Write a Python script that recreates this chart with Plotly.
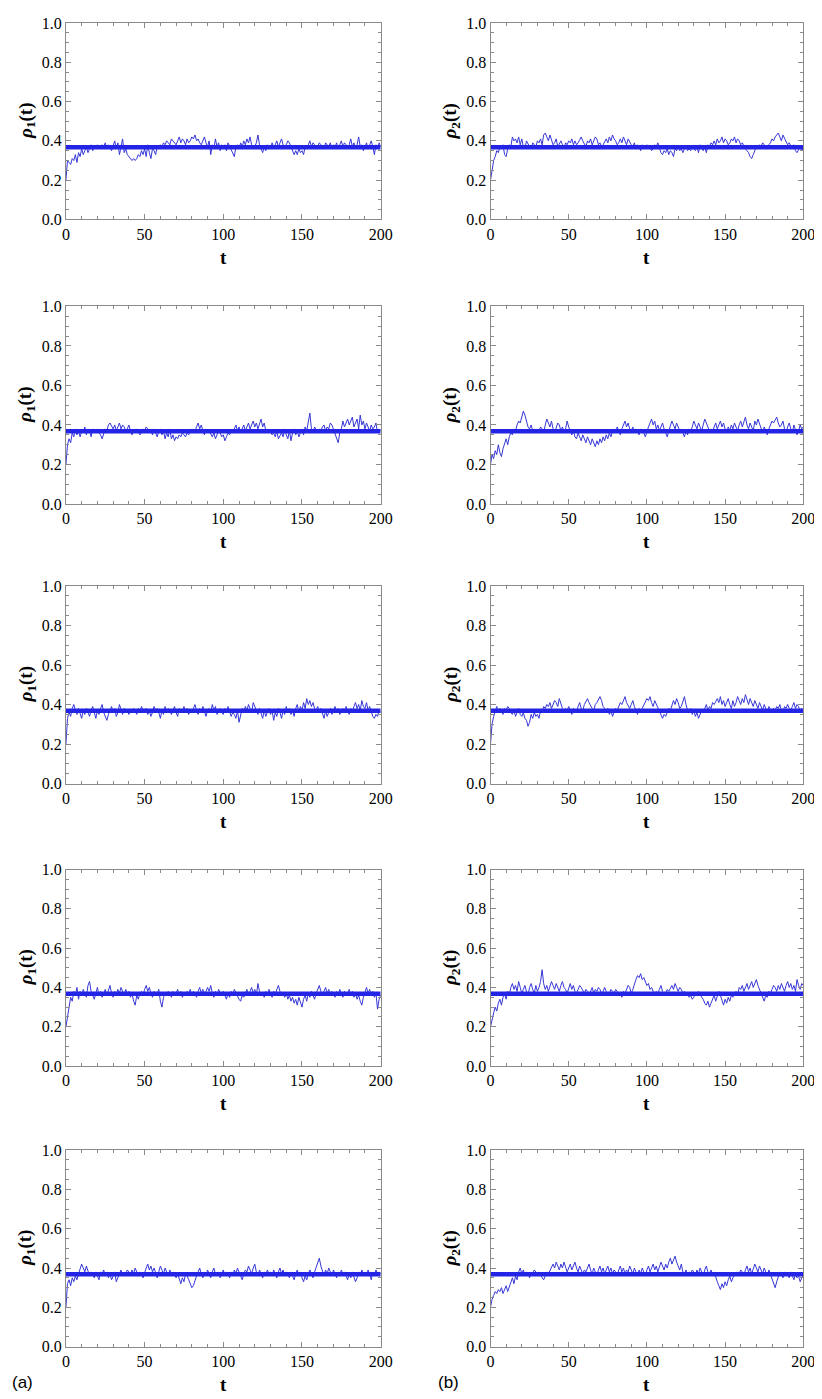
import plotly.graph_objects as go

t = list(range(201))
rho_eq = 0.368

rho1_row1 = [0.20,0.30,0.29,0.28,0.31,0.30,0.33,0.29,0.34,0.32,
0.36,0.33,0.35,0.37,0.34,0.36,0.38,0.35,0.37,0.36,
0.38,0.37,0.36,0.38,0.37,0.39,0.36,0.38,0.37,0.35,
0.38,0.40,0.36,0.39,0.33,0.37,0.41,0.34,0.36,0.33,
0.32,0.31,0.30,0.31,0.30,0.31,0.33,0.32,0.35,0.33,
0.36,0.32,0.38,0.34,0.31,0.36,0.35,0.33,0.37,0.36,
0.38,0.37,0.39,0.38,0.40,0.39,0.38,0.41,0.40,0.39,
0.38,0.40,0.42,0.39,0.41,0.40,0.38,0.41,0.39,0.40,
0.42,0.41,0.43,0.40,0.41,0.39,0.38,0.40,0.42,0.39,
0.37,0.40,0.33,0.38,0.36,0.41,0.37,0.39,0.35,0.38,
0.36,0.38,0.35,0.39,0.37,0.36,0.34,0.32,0.37,0.38,
0.36,0.39,0.37,0.40,0.38,0.41,0.39,0.42,0.38,0.36,
0.37,0.39,0.43,0.38,0.36,0.34,0.37,0.35,0.38,0.37,
0.36,0.39,0.37,0.38,0.40,0.37,0.39,0.41,0.38,0.36,
0.38,0.40,0.39,0.37,0.34,0.33,0.35,0.33,0.36,0.34,
0.35,0.33,0.37,0.36,0.38,0.40,0.37,0.39,0.38,0.36,
0.37,0.39,0.38,0.37,0.36,0.39,0.38,0.37,0.39,0.36,
0.38,0.37,0.39,0.36,0.38,0.40,0.37,0.39,0.38,0.36,
0.38,0.41,0.37,0.39,0.36,0.38,0.42,0.37,0.38,0.35,
0.37,0.39,0.36,0.38,0.40,0.37,0.33,0.38,0.36,0.39,
0.37]

rho2_row1 = [0.20,0.26,0.30,0.32,0.35,0.34,0.37,0.36,0.38,0.33,
0.32,0.36,0.38,0.37,0.42,0.40,0.41,0.39,0.42,0.38,
0.41,0.37,0.36,0.40,0.38,0.37,0.36,0.39,0.38,0.37,
0.40,0.39,0.41,0.38,0.43,0.44,0.42,0.40,0.43,0.41,
0.38,0.39,0.41,0.37,0.39,0.40,0.38,0.36,0.39,0.38,
0.40,0.39,0.41,0.38,0.40,0.38,0.39,0.41,0.42,0.40,
0.38,0.37,0.40,0.39,0.41,0.38,0.40,0.42,0.41,0.38,
0.39,0.37,0.38,0.40,0.41,0.39,0.42,0.40,0.43,0.41,
0.40,0.38,0.39,0.41,0.39,0.42,0.40,0.38,0.41,0.39,
0.38,0.37,0.39,0.36,0.38,0.37,0.35,0.38,0.36,0.37,
0.38,0.36,0.37,0.35,0.36,0.38,0.37,0.39,0.36,0.34,
0.33,0.35,0.34,0.36,0.33,0.35,0.34,0.32,0.36,0.35,
0.37,0.35,0.36,0.34,0.36,0.37,0.35,0.36,0.35,0.37,
0.36,0.35,0.37,0.34,0.38,0.36,0.35,0.37,0.34,0.38,
0.37,0.39,0.38,0.40,0.38,0.41,0.39,0.40,0.42,0.39,
0.41,0.40,0.38,0.39,0.41,0.40,0.42,0.39,0.41,0.40,
0.38,0.39,0.37,0.36,0.35,0.34,0.32,0.31,0.33,0.35,
0.37,0.36,0.38,0.37,0.39,0.38,0.37,0.36,0.38,0.39,
0.41,0.40,0.42,0.43,0.44,0.42,0.40,0.43,0.41,0.39,
0.38,0.39,0.37,0.36,0.38,0.35,0.34,0.36,0.37,0.35,
0.36]

rho1_row2 = [0.20,0.30,0.33,0.31,0.36,0.34,0.38,0.35,0.37,0.34,
0.37,0.36,0.39,0.35,0.38,0.37,0.34,0.38,0.36,0.37,
0.38,0.36,0.35,0.33,0.36,0.38,0.37,0.40,0.41,0.39,
0.38,0.40,0.37,0.39,0.41,0.38,0.40,0.39,0.37,0.38,
0.40,0.37,0.35,0.37,0.36,0.38,0.37,0.35,0.36,0.38,
0.37,0.39,0.38,0.36,0.37,0.35,0.38,0.36,0.34,0.37,
0.38,0.35,0.37,0.33,0.36,0.34,0.38,0.33,0.35,0.32,
0.34,0.33,0.35,0.34,0.36,0.35,0.34,0.36,0.35,0.37,
0.38,0.36,0.37,0.39,0.41,0.38,0.40,0.37,0.35,0.38,
0.36,0.37,0.35,0.34,0.36,0.33,0.35,0.37,0.36,0.34,
0.35,0.32,0.34,0.36,0.35,0.37,0.36,0.38,0.40,0.37,
0.39,0.36,0.38,0.40,0.37,0.39,0.41,0.38,0.40,0.42,
0.39,0.41,0.38,0.40,0.43,0.39,0.41,0.37,0.38,0.36,
0.37,0.35,0.36,0.34,0.37,0.33,0.35,0.36,0.34,0.38,
0.35,0.33,0.37,0.32,0.36,0.38,0.35,0.37,0.34,0.36,
0.38,0.35,0.39,0.37,0.41,0.46,0.38,0.36,0.39,0.37,
0.36,0.38,0.37,0.39,0.40,0.37,0.39,0.38,0.41,0.40,
0.38,0.35,0.33,0.31,0.36,0.38,0.42,0.39,0.41,0.43,
0.40,0.42,0.44,0.39,0.41,0.43,0.38,0.45,0.40,0.42,
0.38,0.41,0.39,0.37,0.40,0.38,0.39,0.41,0.36,0.38,
0.37]

rho2_row2 = [0.20,0.25,0.23,0.27,0.25,0.30,0.26,0.24,0.28,0.31,
0.33,0.30,0.34,0.36,0.35,0.38,0.37,0.40,0.42,0.41,
0.44,0.47,0.45,0.42,0.39,0.38,0.40,0.37,0.38,0.36,
0.38,0.37,0.39,0.38,0.36,0.40,0.43,0.41,0.39,0.42,
0.38,0.36,0.39,0.41,0.40,0.37,0.39,0.36,0.38,0.42,
0.39,0.37,0.35,0.37,0.34,0.33,0.36,0.34,0.32,0.35,
0.33,0.31,0.34,0.32,0.30,0.33,0.31,0.29,0.32,0.30,
0.33,0.31,0.34,0.32,0.35,0.33,0.36,0.34,0.37,0.38,
0.36,0.39,0.37,0.35,0.38,0.40,0.42,0.39,0.41,0.38,
0.37,0.39,0.36,0.38,0.37,0.35,0.38,0.37,0.36,0.34,
0.37,0.39,0.41,0.43,0.40,0.42,0.38,0.40,0.37,0.39,
0.41,0.38,0.36,0.34,0.37,0.39,0.42,0.40,0.38,0.41,
0.39,0.37,0.38,0.36,0.34,0.37,0.35,0.38,0.37,0.39,
0.42,0.40,0.38,0.41,0.39,0.37,0.40,0.43,0.41,0.39,
0.37,0.38,0.36,0.39,0.41,0.38,0.40,0.42,0.39,0.41,
0.38,0.36,0.39,0.37,0.40,0.38,0.41,0.39,0.37,0.40,
0.42,0.39,0.41,0.44,0.40,0.38,0.41,0.39,0.37,0.42,
0.40,0.43,0.41,0.38,0.36,0.39,0.37,0.35,0.38,0.40,
0.42,0.41,0.43,0.44,0.41,0.39,0.40,0.42,0.38,0.36,
0.39,0.41,0.38,0.36,0.40,0.38,0.35,0.37,0.40,0.38,
0.39]

rho1_row3 = [0.20,0.33,0.36,0.34,0.38,0.40,0.37,0.35,0.38,0.36,
0.33,0.37,0.35,0.38,0.36,0.34,0.37,0.39,0.36,0.33,
0.37,0.35,0.38,0.40,0.36,0.34,0.32,0.35,0.37,0.39,
0.36,0.38,0.34,0.36,0.40,0.37,0.35,0.38,0.36,0.37,
0.35,0.37,0.36,0.38,0.37,0.35,0.38,0.36,0.39,0.37,
0.36,0.38,0.35,0.37,0.34,0.36,0.39,0.37,0.38,0.36,
0.33,0.37,0.35,0.39,0.36,0.38,0.37,0.35,0.37,0.39,
0.36,0.34,0.38,0.36,0.37,0.39,0.36,0.38,0.35,0.37,
0.36,0.38,0.40,0.37,0.35,0.38,0.36,0.39,0.37,0.34,
0.37,0.38,0.36,0.40,0.37,0.39,0.35,0.37,0.38,0.36,
0.35,0.38,0.36,0.39,0.37,0.34,0.36,0.35,0.33,0.37,
0.31,0.35,0.38,0.36,0.39,0.37,0.40,0.38,0.36,0.41,
0.39,0.37,0.35,0.38,0.36,0.33,0.37,0.34,0.36,0.38,
0.35,0.37,0.32,0.36,0.34,0.38,0.36,0.33,0.37,0.35,
0.39,0.36,0.38,0.35,0.37,0.34,0.38,0.40,0.36,0.39,
0.37,0.41,0.38,0.43,0.40,0.42,0.39,0.41,0.38,0.37,
0.39,0.36,0.38,0.35,0.33,0.37,0.34,0.36,0.38,0.35,
0.37,0.39,0.36,0.38,0.35,0.37,0.38,0.36,0.39,0.37,
0.35,0.38,0.36,0.39,0.41,0.38,0.40,0.37,0.42,0.39,
0.38,0.41,0.37,0.39,0.36,0.34,0.33,0.35,0.34,0.37,
0.36]

rho2_row3 = [0.20,0.30,0.34,0.37,0.39,0.36,0.38,0.37,0.35,0.38,
0.37,0.39,0.38,0.36,0.35,0.37,0.34,0.36,0.38,0.35,
0.34,0.36,0.33,0.32,0.29,0.31,0.35,0.33,0.36,0.34,
0.35,0.33,0.37,0.36,0.39,0.38,0.40,0.39,0.41,0.38,
0.40,0.42,0.41,0.39,0.43,0.40,0.38,0.36,0.38,0.37,
0.39,0.37,0.35,0.38,0.37,0.36,0.39,0.41,0.38,0.37,
0.40,0.42,0.43,0.41,0.39,0.38,0.37,0.40,0.41,0.43,
0.44,0.42,0.39,0.38,0.36,0.38,0.35,0.37,0.34,0.36,
0.38,0.37,0.39,0.41,0.40,0.42,0.44,0.41,0.39,0.38,
0.40,0.42,0.39,0.37,0.35,0.38,0.36,0.38,0.40,0.41,
0.43,0.42,0.44,0.41,0.39,0.42,0.40,0.38,0.36,0.34,
0.33,0.35,0.34,0.36,0.38,0.37,0.39,0.42,0.40,0.43,
0.41,0.38,0.39,0.42,0.44,0.40,0.37,0.36,0.38,0.35,
0.37,0.34,0.36,0.33,0.35,0.37,0.36,0.38,0.40,0.37,
0.39,0.38,0.41,0.40,0.42,0.43,0.41,0.44,0.40,0.42,
0.39,0.41,0.43,0.40,0.38,0.42,0.39,0.41,0.44,0.42,
0.40,0.43,0.41,0.45,0.42,0.40,0.43,0.41,0.39,0.42,
0.40,0.38,0.41,0.39,0.37,0.40,0.38,0.36,0.39,0.37,
0.36,0.38,0.37,0.39,0.38,0.40,0.37,0.36,0.39,0.38,
0.40,0.38,0.37,0.39,0.41,0.38,0.40,0.39,0.36,0.38,
0.37]

rho1_row4 = [0.20,0.25,0.30,0.35,0.33,0.38,0.36,0.40,0.34,0.38,
0.36,0.39,0.37,0.35,0.41,0.43,0.38,0.36,0.34,0.37,
0.40,0.36,0.38,0.35,0.37,0.39,0.36,0.38,0.41,0.37,
0.35,0.38,0.36,0.39,0.37,0.40,0.38,0.36,0.39,0.37,
0.38,0.35,0.37,0.33,0.31,0.36,0.34,0.37,0.38,0.36,
0.39,0.41,0.38,0.40,0.37,0.35,0.38,0.36,0.37,0.39,
0.33,0.30,0.35,0.37,0.36,0.38,0.37,0.35,0.38,0.36,
0.37,0.39,0.36,0.38,0.35,0.37,0.36,0.38,0.37,0.39,
0.36,0.38,0.37,0.35,0.38,0.40,0.37,0.39,0.36,0.38,
0.40,0.38,0.41,0.37,0.35,0.38,0.36,0.39,0.37,0.36,
0.38,0.36,0.34,0.37,0.35,0.38,0.36,0.39,0.37,0.35,
0.34,0.33,0.36,0.35,0.37,0.39,0.36,0.38,0.40,0.37,
0.39,0.36,0.42,0.38,0.36,0.37,0.35,0.38,0.36,0.39,
0.37,0.35,0.38,0.36,0.39,0.41,0.38,0.36,0.37,0.35,
0.37,0.34,0.36,0.33,0.35,0.32,0.34,0.31,0.35,0.33,
0.30,0.34,0.36,0.33,0.37,0.35,0.38,0.36,0.34,0.37,
0.39,0.41,0.38,0.36,0.38,0.40,0.37,0.39,0.36,0.38,
0.37,0.35,0.38,0.36,0.39,0.37,0.35,0.38,0.36,0.37,
0.39,0.36,0.38,0.35,0.37,0.34,0.36,0.33,0.31,0.35,
0.38,0.40,0.37,0.39,0.36,0.38,0.35,0.37,0.29,0.34,
0.36]

rho2_row4 = [0.20,0.24,0.27,0.30,0.28,0.32,0.34,0.31,0.35,0.37,
0.34,0.38,0.36,0.40,0.42,0.39,0.41,0.38,0.43,0.40,
0.37,0.39,0.41,0.38,0.36,0.40,0.42,0.39,0.37,0.41,
0.38,0.40,0.43,0.49,0.42,0.39,0.41,0.38,0.40,0.43,
0.41,0.39,0.42,0.40,0.38,0.41,0.43,0.40,0.39,0.37,
0.40,0.42,0.39,0.41,0.38,0.37,0.39,0.41,0.40,0.38,
0.37,0.39,0.38,0.36,0.38,0.40,0.37,0.39,0.38,0.40,
0.39,0.37,0.38,0.40,0.38,0.36,0.37,0.39,0.38,0.37,
0.39,0.38,0.36,0.37,0.35,0.38,0.37,0.39,0.41,0.40,
0.37,0.39,0.42,0.44,0.46,0.45,0.47,0.44,0.45,0.43,
0.41,0.42,0.39,0.40,0.38,0.36,0.38,0.37,0.39,0.41,
0.38,0.36,0.37,0.39,0.38,0.40,0.41,0.39,0.42,0.40,
0.38,0.40,0.39,0.37,0.38,0.36,0.37,0.35,0.36,0.34,
0.35,0.37,0.36,0.38,0.37,0.35,0.34,0.32,0.31,0.33,
0.30,0.32,0.34,0.36,0.33,0.35,0.38,0.36,0.33,0.31,
0.34,0.32,0.35,0.33,0.36,0.35,0.37,0.38,0.36,0.40,
0.39,0.41,0.38,0.40,0.42,0.39,0.41,0.43,0.40,0.42,
0.44,0.41,0.39,0.37,0.35,0.33,0.36,0.35,0.38,0.37,
0.39,0.41,0.40,0.38,0.41,0.39,0.42,0.40,0.38,0.41,
0.43,0.40,0.42,0.39,0.41,0.38,0.44,0.41,0.39,0.42,
0.41]

rho1_row5 = [0.20,0.32,0.34,0.31,0.35,0.33,0.36,0.34,0.37,0.39,
0.42,0.40,0.38,0.41,0.39,0.36,0.38,0.37,0.35,0.38,
0.36,0.34,0.38,0.37,0.39,0.36,0.38,0.35,0.37,0.34,
0.36,0.38,0.33,0.35,0.37,0.39,0.36,0.38,0.37,0.39,
0.38,0.36,0.39,0.37,0.40,0.38,0.36,0.38,0.37,0.35,
0.38,0.40,0.42,0.39,0.41,0.38,0.40,0.37,0.35,0.38,
0.41,0.39,0.37,0.40,0.38,0.36,0.39,0.37,0.38,0.36,
0.35,0.37,0.34,0.32,0.35,0.33,0.37,0.36,0.34,0.32,
0.30,0.31,0.34,0.36,0.38,0.40,0.37,0.35,0.38,0.36,
0.39,0.37,0.35,0.38,0.40,0.37,0.36,0.38,0.35,0.37,
0.39,0.36,0.38,0.37,0.35,0.38,0.36,0.39,0.37,0.40,
0.38,0.36,0.34,0.37,0.39,0.38,0.41,0.39,0.37,0.40,
0.42,0.38,0.36,0.39,0.37,0.35,0.38,0.36,0.39,0.37,
0.38,0.36,0.39,0.37,0.35,0.38,0.40,0.37,0.39,0.36,
0.38,0.37,0.35,0.38,0.36,0.34,0.37,0.39,0.36,0.38,
0.35,0.33,0.36,0.34,0.37,0.39,0.37,0.35,0.38,0.40,
0.42,0.45,0.41,0.38,0.36,0.39,0.37,0.40,0.38,0.36,
0.39,0.37,0.35,0.38,0.36,0.39,0.37,0.38,0.36,0.34,
0.37,0.35,0.38,0.36,0.33,0.35,0.38,0.36,0.39,0.37,
0.38,0.36,0.39,0.37,0.34,0.38,0.36,0.39,0.37,0.38,
0.37]

rho2_row5 = [0.20,0.24,0.26,0.28,0.27,0.29,0.28,0.30,0.27,0.29,
0.31,0.28,0.30,0.33,0.35,0.32,0.36,0.34,0.38,0.40,
0.37,0.39,0.36,0.38,0.37,0.35,0.38,0.37,0.39,0.38,
0.36,0.38,0.37,0.35,0.34,0.36,0.38,0.37,0.39,0.40,
0.42,0.40,0.43,0.41,0.39,0.42,0.40,0.43,0.41,0.38,
0.40,0.42,0.39,0.41,0.43,0.40,0.38,0.41,0.39,0.37,
0.39,0.38,0.40,0.42,0.39,0.37,0.40,0.38,0.36,0.39,
0.41,0.38,0.40,0.37,0.39,0.41,0.38,0.40,0.37,0.39,
0.38,0.36,0.39,0.41,0.38,0.40,0.37,0.39,0.38,0.41,
0.39,0.37,0.40,0.38,0.36,0.39,0.37,0.40,0.38,0.36,
0.39,0.41,0.38,0.40,0.42,0.39,0.41,0.38,0.40,0.43,
0.41,0.39,0.42,0.40,0.43,0.45,0.42,0.44,0.46,0.43,
0.41,0.39,0.42,0.38,0.37,0.39,0.36,0.38,0.37,0.39,
0.38,0.36,0.39,0.37,0.40,0.38,0.36,0.39,0.41,0.38,
0.37,0.39,0.36,0.38,0.35,0.33,0.31,0.29,0.32,0.30,
0.33,0.31,0.34,0.36,0.33,0.35,0.37,0.36,0.38,0.37,
0.39,0.38,0.36,0.39,0.41,0.38,0.40,0.37,0.39,0.42,
0.40,0.38,0.41,0.39,0.37,0.40,0.38,0.36,0.39,0.37,
0.35,0.32,0.30,0.33,0.36,0.38,0.37,0.35,0.38,0.36,
0.37,0.35,0.38,0.36,0.34,0.37,0.35,0.36,0.33,0.35,
0.36]

series_left = [rho1_row1, rho1_row2, rho1_row3, rho1_row4, rho1_row5]
series_right = [rho2_row1, rho2_row2, rho2_row3, rho2_row4, rho2_row5]
x_ticks = [0, 50, 100, 150, 200]
y_ticks = [0.0, 0.2, 0.4, 0.6, 0.8, 1.0]
y_tick_text = ["0.0", "0.2", "0.4", "0.6", "0.8", "1.0"]

W, H = 822, 1399
col_px = [(55, 376), (488, 807)]
row_px = [(7, 206), (294, 494), (577, 777), (864, 1063), (1148, 1347)]
xtitle_gap = 38
ylabel_x = [15, 448]

SERIF = "Liberation Serif"
SANS = "Liberation Sans"
thin_color = "#3636d6"
thick_color = "#2424e6"
axis_color = "#8a8a8a"

fig = go.Figure()
layout = dict(width=W, height=H, margin=dict(l=0, r=0, t=0, b=0),
              paper_bgcolor="white", plot_bgcolor="white", showlegend=False)
annotations = []

idx = 0
for r in range(5):
    for c in range(2):
        idx += 1
        xa = "x" if idx == 1 else f"x{idx}"
        ya = "y" if idx == 1 else f"y{idx}"
        data = series_left[r] if c == 0 else series_right[r]
        fig.add_trace(go.Scatter(x=t, y=data, mode="lines",
                                 line=dict(color=thin_color, width=1),
                                 xaxis=xa, yaxis=ya, hoverinfo="skip"))
        fig.add_trace(go.Scatter(x=[t[0], t[-1]], y=[rho_eq, rho_eq], mode="lines",
                                 line=dict(color=thick_color, width=4.5),
                                 xaxis=xa, yaxis=ya, hoverinfo="skip"))
        x0, x1 = col_px[c]
        y0, y1 = row_px[r]
        common = dict(showgrid=False, zeroline=False, showline=True,
                      linecolor=axis_color, linewidth=1, mirror="ticks",
                      ticks="inside", tickcolor=axis_color, ticklen=5,
                      tickfont=dict(family=SERIF, size=16, color="black"))
        layout["xaxis" if idx == 1 else f"xaxis{idx}"] = dict(
            domain=[x0 / W, x1 / W], range=[0, 200], anchor=ya,
            tickvals=x_ticks, ticktext=[str(v) for v in x_ticks],
            minor=dict(ticks="inside", dtick=10, ticklen=3, tickcolor=axis_color),
            **common)
        layout["yaxis" if idx == 1 else f"yaxis{idx}"] = dict(
            domain=[1 - y1 / H, 1 - y0 / H], range=[0, 1], anchor=xa,
            tickvals=y_ticks, ticktext=y_tick_text,
            minor=dict(ticks="inside", dtick=0.05, ticklen=3, tickcolor=axis_color),
            **common)
        annotations.append(dict(text="<b>t</b>", xref="paper", yref="paper",
                                x=(x0 + x1) / 2 / W, y=1 - (y1 + xtitle_gap) / H,
                                showarrow=False, xanchor="center", yanchor="middle",
                                font=dict(family=SERIF, size=19, color="black")))
        sub = "1" if c == 0 else "2"
        annotations.append(dict(text=f"<b><i>ρ</i><sub>{sub}</sub>(t)</b>",
                                xref="paper", yref="paper",
                                x=ylabel_x[c] / W, y=1 - (y0 + y1) / 2 / H,
                                showarrow=False, textangle=-90,
                                xanchor="center", yanchor="middle",
                                font=dict(family=SERIF, size=19, color="black")))

annotations.append(dict(text="(a)", xref="paper", yref="paper", x=11 / W, y=1 - 1383 / H,
                        showarrow=False, xanchor="center", yanchor="middle",
                        font=dict(family=SANS, size=17, color="black")))
annotations.append(dict(text="(b)", xref="paper", yref="paper", x=445 / W, y=1 - 1383 / H,
                        showarrow=False, xanchor="center", yanchor="middle",
                        font=dict(family=SANS, size=17, color="black")))
layout["annotations"] = annotations
fig.update_layout(**layout)
fig.write_html("out.html")
